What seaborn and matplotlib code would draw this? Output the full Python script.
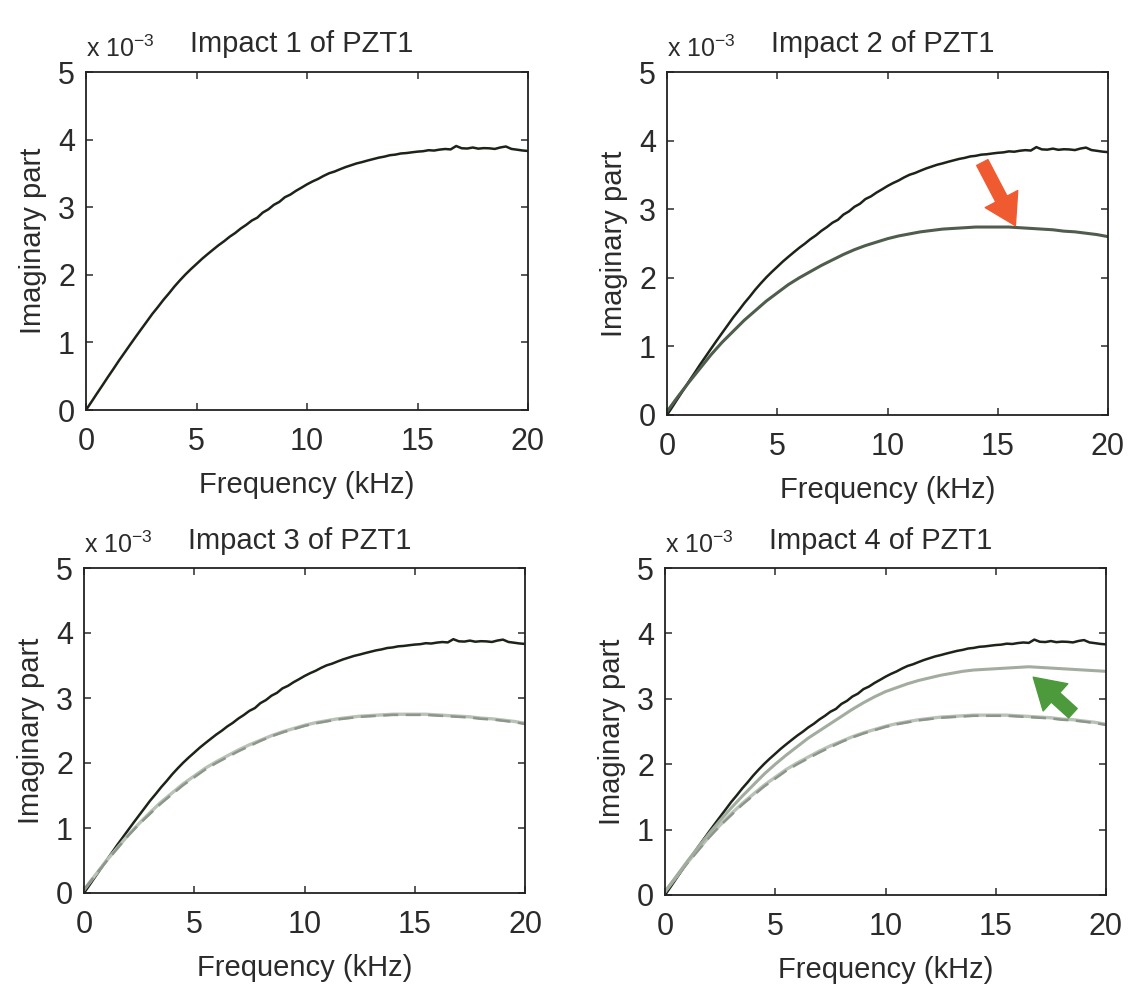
import matplotlib
matplotlib.use("Agg")
import matplotlib.pyplot as plt
import seaborn as sns
import pandas as pd

# frequency grids (kHz)
freq_fine = [i * 0.25 for i in range(81)]
freq_coarse = [i * 0.5 for i in range(41)]

# baseline (healthy) imaginary part, x1e-3
baseline = [
    0.000, 0.122, 0.246, 0.368, 0.492, 0.612, 0.735, 0.851, 0.968,
    1.083, 1.196, 1.308, 1.421, 1.522, 1.628, 1.724, 1.826,
    1.918, 2.005, 2.085, 2.160, 2.236, 2.305, 2.372, 2.438,
    2.497, 2.563, 2.618, 2.684, 2.739, 2.802, 2.845, 2.921,
    2.968, 3.035, 3.079, 3.148, 3.187, 3.242, 3.289, 3.338,
    3.381, 3.418, 3.463, 3.502, 3.528, 3.562, 3.594, 3.621,
    3.648, 3.668, 3.691, 3.712, 3.733, 3.748, 3.769, 3.778,
    3.795, 3.801, 3.812, 3.822, 3.828, 3.843, 3.838, 3.852,
    3.861, 3.855, 3.905, 3.872, 3.868, 3.883, 3.866, 3.874,
    3.871, 3.862, 3.884, 3.898, 3.862, 3.851, 3.839, 3.832,
]

impact2 = [
    0.05, 0.27, 0.48, 0.68, 0.88, 1.06, 1.22, 1.38, 1.52, 1.66, 1.78,
    1.90, 2.00, 2.09, 2.18, 2.26, 2.34, 2.41, 2.47, 2.52, 2.57,
    2.61, 2.64, 2.67, 2.69, 2.71, 2.72, 2.73, 2.74, 2.74, 2.74,
    2.74, 2.73, 2.72, 2.71, 2.70, 2.68, 2.67, 2.65, 2.63, 2.60,
]

impact3 = [
    0.05, 0.27, 0.49, 0.69, 0.89, 1.07, 1.24, 1.40, 1.54, 1.68, 1.80,
    1.92, 2.02, 2.11, 2.20, 2.28, 2.35, 2.42, 2.48, 2.53, 2.58,
    2.62, 2.65, 2.68, 2.70, 2.72, 2.73, 2.74, 2.75, 2.75, 2.75,
    2.75, 2.74, 2.73, 2.72, 2.71, 2.69, 2.68, 2.66, 2.64, 2.61,
]

impact4 = [
    0.05, 0.28, 0.51, 0.73, 0.94, 1.14, 1.33, 1.51, 1.68, 1.85, 2.00,
    2.14, 2.27, 2.40, 2.51, 2.62, 2.73, 2.84, 2.94, 3.03, 3.11,
    3.17, 3.23, 3.28, 3.32, 3.36, 3.39, 3.42, 3.44, 3.45, 3.46,
    3.47, 3.48, 3.49, 3.48, 3.47, 3.46, 3.45, 3.44, 3.43, 3.42,
]

titles = ["Impact 1 of PZT1", "Impact 2 of PZT1", "Impact 3 of PZT1", "Impact 4 of PZT1"]
x_ticks = [0, 5, 10, 15, 20]
y_ticks = [0, 1, 2, 3, 4, 5]

sns.set_theme(style="ticks")
plt.rcParams["font.family"] = ["Liberation Sans", "DejaVu Sans"]

TXT = "#2b2b2b"
BLACK = "#1c2318"

fig = plt.figure(figsize=(11.3, 9.85), dpi=100)
W, H = 1130, 985
# axes boxes in pixels: left, top, right, bottom
boxes = [(86, 72, 528, 410), (667, 72, 1108, 415),
         (84, 568, 525, 893), (665, 568, 1106, 895)]
axes = []
for l, t, r, b in boxes:
    axes.append(fig.add_axes([l / W, (H - b) / H, (r - l) / W, (b - t) / H]))

base_df = pd.DataFrame({"freq": freq_fine, "imag": baseline})
df2 = pd.DataFrame({"freq": freq_coarse, "imag": impact2})
df3 = pd.DataFrame({"freq": freq_coarse, "imag": impact3})
df4 = pd.DataFrame({"freq": freq_coarse, "imag": impact4})

# panel 1
sns.lineplot(data=base_df, x="freq", y="imag", ax=axes[0], color=BLACK, linewidth=1.8)

# panel 2
sns.lineplot(data=base_df, x="freq", y="imag", ax=axes[1], color=BLACK, linewidth=1.8)
sns.lineplot(data=df2, x="freq", y="imag", ax=axes[1], color="#4f5d4c", linewidth=2.2)

# panel 3
sns.lineplot(data=base_df, x="freq", y="imag", ax=axes[2], color=BLACK, linewidth=1.8)
sns.lineplot(data=df3, x="freq", y="imag", ax=axes[2], color="#b9c2b6", linewidth=2.4)
sns.lineplot(data=df2, x="freq", y="imag", ax=axes[2], color="#8c968a", linewidth=1.8,
             linestyle=(0, (6, 3)))

# panel 4
sns.lineplot(data=base_df, x="freq", y="imag", ax=axes[3], color=BLACK, linewidth=1.8)
sns.lineplot(data=df3, x="freq", y="imag", ax=axes[3], color="#b9c2b6", linewidth=2.4)
sns.lineplot(data=df2, x="freq", y="imag", ax=axes[3], color="#8c968a", linewidth=1.8,
             linestyle=(0, (6, 3)))
sns.lineplot(data=df4, x="freq", y="imag", ax=axes[3], color="#a3ad9f", linewidth=2.2)

for ax, title in zip(axes, titles):
    ax.set_xlim(0, 20)
    ax.set_ylim(0, 5)
    ax.set_xticks(x_ticks)
    ax.set_yticks(y_ticks)
    ax.tick_params(direction="in", top=True, right=True, length=5, width=1.1,
                   labelsize=22, colors=TXT, labelcolor=TXT)
    ax.tick_params(axis="x", pad=12)
    ax.tick_params(axis="y", pad=8)
    for sp in ax.spines.values():
        sp.set_visible(True)
        sp.set_color("#222222")
        sp.set_linewidth(1.3)
    ax.set_xlabel("Frequency (kHz)", fontsize=21, color=TXT, labelpad=10)
    ax.set_ylabel("Imaginary part", fontsize=21, color=TXT, labelpad=8)
    ax.text(0.0, 1.03, r"x 10$^{\mathregular{-3}}$", transform=ax.transAxes,
            fontsize=18, color=TXT, ha="left", va="bottom")
    ax.text(0.235, 1.04, title, transform=ax.transAxes, fontsize=21,
            color=TXT, ha="left", va="bottom")

# highlight arrows
axes[1].annotate("", xy=(15.8, 2.76), xytext=(14.3, 3.68),
                 arrowprops=dict(arrowstyle="simple,head_length=0.9,head_width=1.1,tail_width=0.38",
                                 color="#f05a30", mutation_scale=24, shrinkA=0, shrinkB=0))
axes[3].annotate("", xy=(16.7, 3.33), xytext=(18.5, 2.78),
                 arrowprops=dict(arrowstyle="simple,head_length=0.9,head_width=1.1,tail_width=0.38",
                                 color="#4c9a3c", mutation_scale=24, shrinkA=0, shrinkB=0))

fig.savefig("out.png", dpi=100, facecolor="white")
